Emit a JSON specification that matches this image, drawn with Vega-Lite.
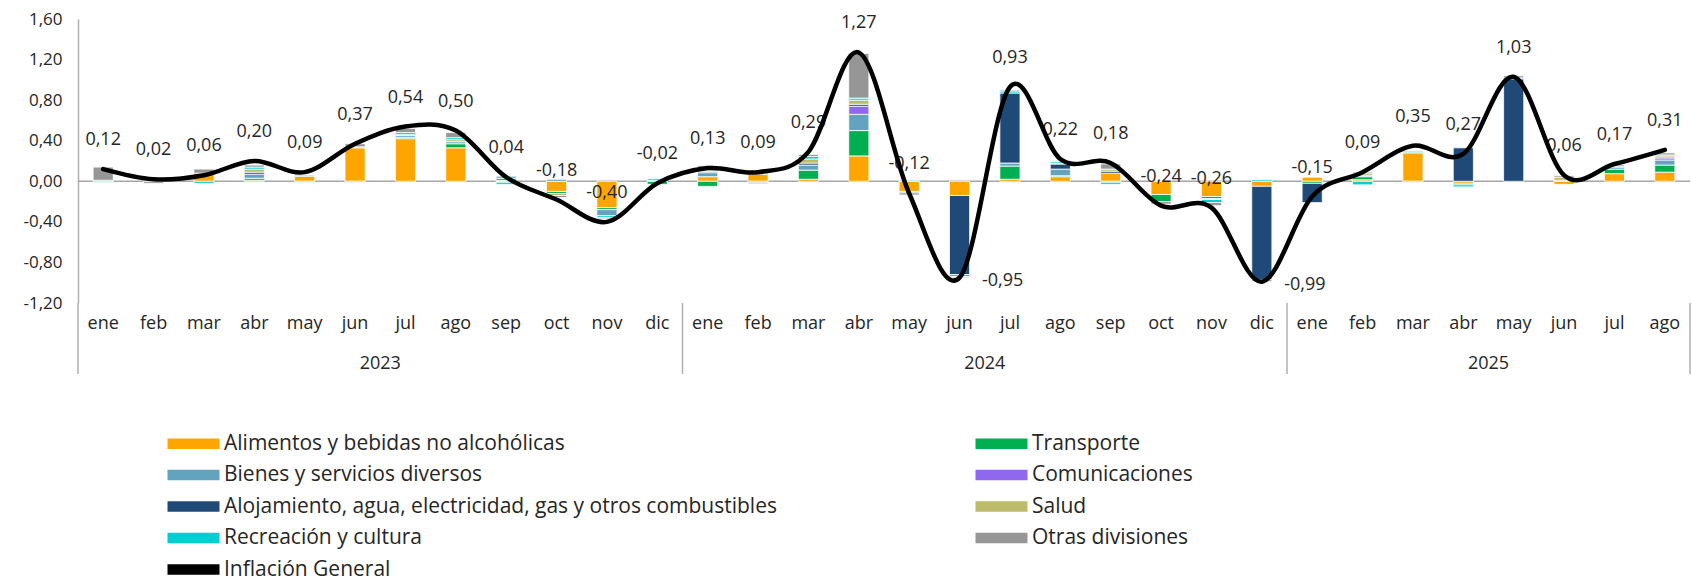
{
  "$schema": "https://vega.github.io/schema/vega-lite/v6.json",
  "autosize": {"type": "none"},
  "padding": {"left": 78, "top": 19, "right": 2, "bottom": 281},
  "width": 1612,
  "height": 284,
  "background": "white",
  "config": {
    "locale": {"number": {"decimal": ",", "thousands": ".", "grouping": [3], "currency": ["$", ""], "minus": "-"}},
    "font": "Open Sans",
    "view": {"stroke": null}
  },
  "datasets": {
    "contrib": [
      {"mes": "2023-ene", "Transporte": -0.01, "Recreación y cultura": 0.01, "Otras divisiones": 0.13},
      {"mes": "2023-feb", "Bienes y servicios diversos": 0.01, "Otras divisiones": -0.02},
      {"mes": "2023-mar", "Alimentos y bebidas no alcohólicas": 0.08, "Recreación y cultura": -0.02, "Otras divisiones": 0.04},
      {"mes": "2023-abr", "Alimentos y bebidas no alcohólicas": 0.01, "Transporte": 0.02, "Bienes y servicios diversos": 0.04, "Alojamiento, agua, electricidad, gas y otros combustibles": 0.02, "Salud": 0.03, "Recreación y cultura": 0.02, "Otras divisiones": 0.02},
      {"mes": "2023-may", "Alimentos y bebidas no alcohólicas": 0.05, "Recreación y cultura": -0.01, "Otras divisiones": 0.01},
      {"mes": "2023-jun", "Alimentos y bebidas no alcohólicas": 0.33, "Bienes y servicios diversos": -0.01, "Salud": 0.01, "Otras divisiones": 0.03},
      {"mes": "2023-jul", "Alimentos y bebidas no alcohólicas": 0.42, "Transporte": 0.01, "Bienes y servicios diversos": 0.02, "Salud": 0.01, "Recreación y cultura": 0.02, "Otras divisiones": 0.04},
      {"mes": "2023-ago", "Alimentos y bebidas no alcohólicas": 0.33, "Transporte": 0.04, "Bienes y servicios diversos": 0.02, "Salud": 0.02, "Recreación y cultura": 0.02, "Otras divisiones": 0.05},
      {"mes": "2023-sep", "Alimentos y bebidas no alcohólicas": 0.01, "Transporte": 0.02, "Bienes y servicios diversos": 0.02, "Salud": -0.01, "Recreación y cultura": -0.02},
      {"mes": "2023-oct", "Alimentos y bebidas no alcohólicas": -0.10, "Transporte": -0.02, "Bienes y servicios diversos": 0.02, "Salud": -0.02, "Otras divisiones": -0.02},
      {"mes": "2023-nov", "Alimentos y bebidas no alcohólicas": -0.26, "Transporte": -0.02, "Bienes y servicios diversos": -0.06, "Recreación y cultura": -0.02, "Otras divisiones": -0.01},
      {"mes": "2023-dic", "Transporte": -0.03, "Bienes y servicios diversos": 0.01, "Recreación y cultura": 0.015},
      {"mes": "2024-ene", "Alimentos y bebidas no alcohólicas": 0.045, "Transporte": -0.05, "Bienes y servicios diversos": 0.04, "Alojamiento, agua, electricidad, gas y otros combustibles": 0.01, "Salud": 0.015, "Recreación y cultura": 0.01, "Otras divisiones": 0.035},
      {"mes": "2024-feb", "Alimentos y bebidas no alcohólicas": 0.07, "Bienes y servicios diversos": -0.015, "Recreación y cultura": 0.015, "Otras divisiones": -0.01},
      {"mes": "2024-mar", "Alimentos y bebidas no alcohólicas": 0.02, "Transporte": 0.09, "Bienes y servicios diversos": 0.05, "Alojamiento, agua, electricidad, gas y otros combustibles": 0.02, "Salud": 0.04, "Recreación y cultura": 0.025, "Otras divisiones": 0.02},
      {"mes": "2024-abr", "Alimentos y bebidas no alcohólicas": 0.25, "Transporte": 0.25, "Bienes y servicios diversos": 0.16, "Comunicaciones": 0.08, "Alojamiento, agua, electricidad, gas y otros combustibles": 0.02, "Salud": 0.04, "Recreación y cultura": 0.02, "Otras divisiones": 0.44},
      {"mes": "2024-may", "Alimentos y bebidas no alcohólicas": -0.10, "Bienes y servicios diversos": -0.015, "Recreación y cultura": 0.01, "Otras divisiones": -0.02},
      {"mes": "2024-jun", "Alimentos y bebidas no alcohólicas": -0.14, "Alojamiento, agua, electricidad, gas y otros combustibles": -0.78, "Recreación y cultura": -0.02, "Otras divisiones": -0.01},
      {"mes": "2024-jul", "Alimentos y bebidas no alcohólicas": 0.02, "Transporte": 0.13, "Bienes y servicios diversos": 0.03, "Alojamiento, agua, electricidad, gas y otros combustibles": 0.69, "Recreación y cultura": 0.02, "Otras divisiones": 0.01},
      {"mes": "2024-ago", "Alimentos y bebidas no alcohólicas": 0.045, "Transporte": 0.01, "Bienes y servicios diversos": 0.065, "Alojamiento, agua, electricidad, gas y otros combustibles": 0.05, "Salud": 0.01, "Recreación y cultura": 0.015, "Otras divisiones": 0.01},
      {"mes": "2024-sep", "Alimentos y bebidas no alcohólicas": 0.08, "Bienes y servicios diversos": -0.01, "Alojamiento, agua, electricidad, gas y otros combustibles": 0.02, "Salud": 0.02, "Recreación y cultura": -0.02, "Otras divisiones": 0.05},
      {"mes": "2024-oct", "Alimentos y bebidas no alcohólicas": -0.13, "Transporte": -0.07, "Recreación y cultura": 0.005, "Otras divisiones": -0.025},
      {"mes": "2024-nov", "Alimentos y bebidas no alcohólicas": -0.15, "Transporte": -0.02, "Bienes y servicios diversos": -0.01, "Recreación y cultura": -0.03, "Otras divisiones": -0.03},
      {"mes": "2024-dic", "Alimentos y bebidas no alcohólicas": -0.05, "Alojamiento, agua, electricidad, gas y otros combustibles": -0.92, "Recreación y cultura": 0.015, "Otras divisiones": -0.02},
      {"mes": "2025-ene", "Alimentos y bebidas no alcohólicas": 0.04, "Transporte": -0.02, "Alojamiento, agua, electricidad, gas y otros combustibles": -0.19},
      {"mes": "2025-feb", "Alimentos y bebidas no alcohólicas": 0.015, "Transporte": 0.03, "Bienes y servicios diversos": 0.01, "Salud": 0.02, "Recreación y cultura": -0.035, "Otras divisiones": 0.015},
      {"mes": "2025-mar", "Alimentos y bebidas no alcohólicas": 0.28, "Bienes y servicios diversos": -0.01, "Recreación y cultura": 0.01, "Otras divisiones": 0.01},
      {"mes": "2025-abr", "Alimentos y bebidas no alcohólicas": -0.02, "Transporte": -0.015, "Alojamiento, agua, electricidad, gas y otros combustibles": 0.33, "Recreación y cultura": -0.02},
      {"mes": "2025-may", "Alojamiento, agua, electricidad, gas y otros combustibles": 1.01, "Recreación y cultura": 0.01, "Otras divisiones": 0.02},
      {"mes": "2025-jun", "Alimentos y bebidas no alcohólicas": -0.03, "Bienes y servicios diversos": 0.01, "Salud": 0.03, "Otras divisiones": 0.015},
      {"mes": "2025-jul", "Alimentos y bebidas no alcohólicas": 0.075, "Transporte": 0.045, "Bienes y servicios diversos": 0.02, "Salud": 0.01, "Recreación y cultura": 0.015, "Otras divisiones": 0.01},
      {"mes": "2025-ago", "Alimentos y bebidas no alcohólicas": 0.09, "Transporte": 0.07, "Bienes y servicios diversos": 0.05, "Comunicaciones": 0.02, "Salud": 0.02, "Recreación y cultura": 0.01, "Otras divisiones": 0.02}
    ],
    "inflacion": [
      {"mes": "2023-ene", "valor": 0.12}, {"mes": "2023-feb", "valor": 0.02}, {"mes": "2023-mar", "valor": 0.06},
      {"mes": "2023-abr", "valor": 0.20}, {"mes": "2023-may", "valor": 0.09}, {"mes": "2023-jun", "valor": 0.37},
      {"mes": "2023-jul", "valor": 0.54}, {"mes": "2023-ago", "valor": 0.50}, {"mes": "2023-sep", "valor": 0.04},
      {"mes": "2023-oct", "valor": -0.18}, {"mes": "2023-nov", "valor": -0.40}, {"mes": "2023-dic", "valor": -0.02},
      {"mes": "2024-ene", "valor": 0.13}, {"mes": "2024-feb", "valor": 0.09}, {"mes": "2024-mar", "valor": 0.29},
      {"mes": "2024-abr", "valor": 1.27}, {"mes": "2024-may", "valor": -0.12}, {"mes": "2024-jun", "valor": -0.95},
      {"mes": "2024-jul", "valor": 0.93}, {"mes": "2024-ago", "valor": 0.22}, {"mes": "2024-sep", "valor": 0.18},
      {"mes": "2024-oct", "valor": -0.24}, {"mes": "2024-nov", "valor": -0.26}, {"mes": "2024-dic", "valor": -0.99},
      {"mes": "2025-ene", "valor": -0.15}, {"mes": "2025-feb", "valor": 0.09}, {"mes": "2025-mar", "valor": 0.35},
      {"mes": "2025-abr", "valor": 0.27}, {"mes": "2025-may", "valor": 1.03}, {"mes": "2025-jun", "valor": 0.06},
      {"mes": "2025-jul", "valor": 0.17}, {"mes": "2025-ago", "valor": 0.31}
    ],
    "cortes": [{"mes": "2023-ene"}, {"mes": "2024-ene"}, {"mes": "2025-ene"}],
    "fin": [{"mes": "2025-ago"}],
    "anios": [{"mes": "2023-jul", "anio": "2023"}, {"mes": "2024-jul", "anio": "2024"}, {"mes": "2025-may", "anio": "2025"}]
  },
  "layer": [
    {
      "data": {"values": [{}]},
      "mark": {"type": "rule", "color": "#A6A6A6", "strokeWidth": 1.5},
      "encoding": {"y": {"datum": 0, "type": "quantitative", "title": null}}
    },
    {
      "data": {"name": "contrib"},
      "transform": [
        {"fold": ["Alimentos y bebidas no alcohólicas", "Transporte", "Bienes y servicios diversos", "Comunicaciones", "Alojamiento, agua, electricidad, gas y otros combustibles", "Salud", "Recreación y cultura", "Otras divisiones"], "as": ["categoria", "valor"]},
        {"filter": "datum.valor != null && datum.valor != 0"},
        {"calculate": "indexof(['Alimentos y bebidas no alcohólicas', 'Transporte', 'Bienes y servicios diversos', 'Comunicaciones', 'Alojamiento, agua, electricidad, gas y otros combustibles', 'Salud', 'Recreación y cultura', 'Otras divisiones'], datum.categoria)", "as": "orden"}
      ],
      "mark": {"type": "bar", "width": {"band": 0.4}, "stroke": "white", "strokeWidth": 0.8},
      "encoding": {
        "x": {
          "field": "mes", "type": "nominal", "title": null,
          "scale": {"domain": ["2023-ene","2023-feb","2023-mar","2023-abr","2023-may","2023-jun","2023-jul","2023-ago","2023-sep","2023-oct","2023-nov","2023-dic","2024-ene","2024-feb","2024-mar","2024-abr","2024-may","2024-jun","2024-jul","2024-ago","2024-sep","2024-oct","2024-nov","2024-dic","2025-ene","2025-feb","2025-mar","2025-abr","2025-may","2025-jun","2025-jul","2025-ago"], "paddingInner": 0, "paddingOuter": 0},
          "axis": {"labelExpr": "split(datum.value, '-')[1]", "ticks": false, "domain": false, "labelAngle": 0, "labelFontSize": 18, "labelPadding": 11, "labelColor": "#262626", "labelFont": "Open Sans"}
        },
        "y": {
          "field": "valor", "type": "quantitative", "stack": "zero", "title": null,
          "scale": {"domain": [-1.2, 1.6], "nice": false, "zero": false},
          "axis": {"values": [-1.2, -0.8, -0.4, 0, 0.4, 0.8, 1.2, 1.6], "format": ".2f", "ticks": false, "grid": false, "domainColor": "#B0B0B0", "domainWidth": 1.5, "labelPadding": 16, "labelFontSize": 17, "labelColor": "#262626", "labelFont": "Open Sans"}
        },
        "order": {"field": "orden", "type": "quantitative"},
        "color": {
          "field": "categoria", "type": "nominal",
          "scale": {
            "domain": ["Alimentos y bebidas no alcohólicas", "Transporte", "Bienes y servicios diversos", "Comunicaciones", "Alojamiento, agua, electricidad, gas y otros combustibles", "Salud", "Recreación y cultura", "Otras divisiones", "Inflación General"],
            "range": ["#FFA500", "#00B050", "#62A3C0", "#9068F0", "#1F4A78", "#BBBB6A", "#00CFD1", "#969696", "#000000"]
          },
          "legend": {
            "title": null, "orient": "none", "legendX": 105, "legendY": 414, "direction": "horizontal", "columns": 2, "columnPadding": 198, "rowPadding": 9.5,
            "symbolType": "M-2.6,-0.52H2.6V0.52H-2.6Z", "symbolSize": 400, "symbolStrokeWidth": 0,
            "labelFontSize": 21, "labelFont": "Open Sans", "labelColor": "#262626", "labelOffset": 20, "labelLimit": 900,
            "encode": {"symbols": {"update": {"shape": {"signal": "datum.value === 'Inflación General' ? 'M-2.6,-0.3H2.6V0.3H-2.6Z' : 'M-2.6,-0.52H2.6V0.52H-2.6Z'"}, "strokeWidth": {"value": 0}}}}
          }
        }
      }
    },
    {
      "data": {"name": "inflacion"},
      "transform": [{"filter": "datum.valor > -0.9"}],
      "mark": {"type": "text", "dy": -29, "fontSize": 18, "font": "Open Sans", "color": "#262626"},
      "encoding": {
        "x": {"field": "mes", "type": "nominal", "title": null},
        "y": {"field": "valor", "type": "quantitative", "title": null},
        "text": {"field": "valor", "type": "quantitative", "format": ".2f"}
      }
    },
    {
      "data": {"name": "inflacion"},
      "transform": [{"filter": "datum.valor <= -0.9"}],
      "mark": {"type": "text", "dx": 43, "dy": 3, "fontSize": 18, "font": "Open Sans", "color": "#262626"},
      "encoding": {
        "x": {"field": "mes", "type": "nominal", "title": null},
        "y": {"field": "valor", "type": "quantitative", "title": null},
        "text": {"field": "valor", "type": "quantitative", "format": ".2f"}
      }
    },
    {
      "data": {"name": "inflacion"},
      "mark": {"type": "line", "interpolate": "cardinal", "color": "#000000", "strokeWidth": 4.5, "strokeCap": "round"},
      "encoding": {
        "x": {"field": "mes", "type": "nominal", "title": null},
        "y": {"field": "valor", "type": "quantitative", "title": null}
      }
    },
    {
      "data": {"name": "cortes"},
      "mark": {"type": "rule", "color": "#B0B0B0", "strokeWidth": 1.5},
      "encoding": {
        "x": {"field": "mes", "type": "nominal", "bandPosition": 0, "title": null},
        "y": {"datum": -1.2, "type": "quantitative"},
        "y2": {"datum": -1.9}
      }
    },
    {
      "data": {"name": "fin"},
      "mark": {"type": "rule", "color": "#B0B0B0", "strokeWidth": 1.5},
      "encoding": {
        "x": {"field": "mes", "type": "nominal", "bandPosition": 1, "title": null},
        "y": {"datum": -1.2, "type": "quantitative"},
        "y2": {"datum": -1.9}
      }
    },
    {
      "data": {"name": "anios"},
      "mark": {"type": "text", "dy": 61, "fontSize": 18, "font": "Open Sans", "color": "#262626"},
      "encoding": {
        "x": {"field": "mes", "type": "nominal", "bandPosition": 0, "title": null},
        "y": {"datum": -1.2, "type": "quantitative"},
        "text": {"field": "anio"}
      }
    }
  ]
}
